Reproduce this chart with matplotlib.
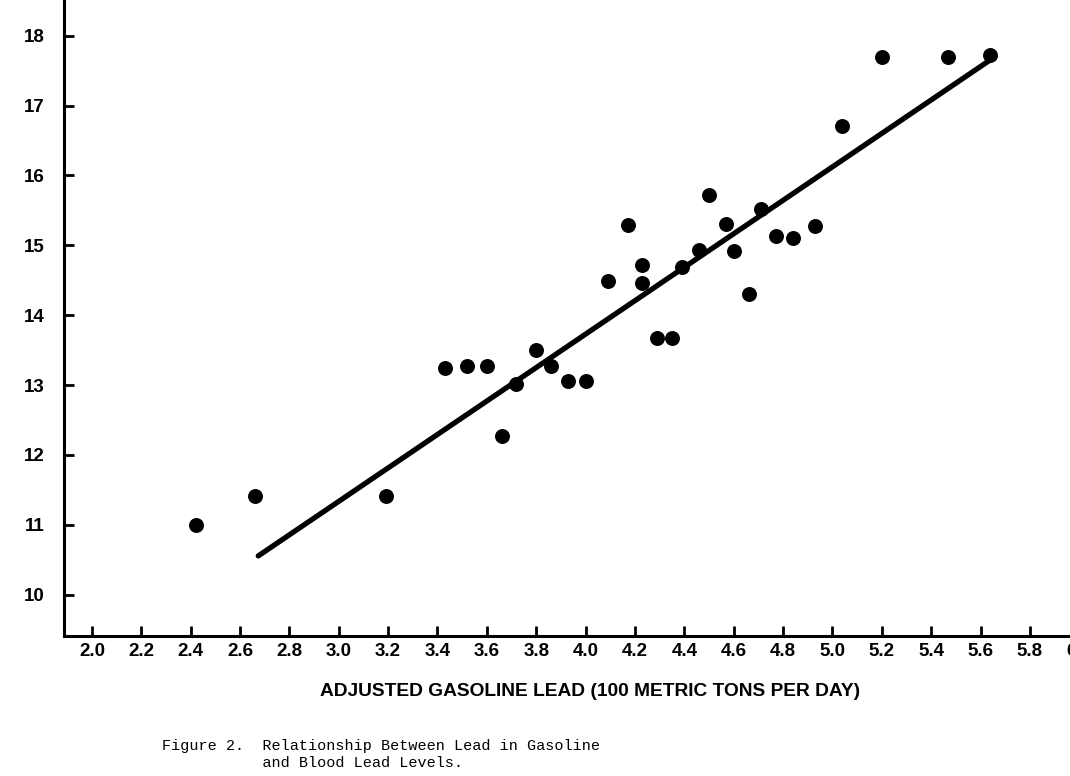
import numpy as np
import matplotlib
matplotlib.use("Agg")
import matplotlib.pyplot as plt

# --- DATA ---
gas_lead = [2.42, 2.66, 3.19, 3.43, 3.52, 3.60, 3.66, 3.72, 3.80, 3.86,
            3.93, 4.00, 4.09, 4.17, 4.23, 4.23, 4.29, 4.35, 4.39, 4.46,
            4.50, 4.57, 4.60, 4.66, 4.71, 4.77, 4.84, 4.93, 5.04, 5.20,
            5.47, 5.64]
blood_lead = [11.00, 11.41, 11.42, 13.24, 13.27, 13.27, 12.27, 13.02, 13.50, 13.27,
              13.06, 13.06, 14.49, 15.29, 14.72, 14.46, 13.67, 13.67, 14.69, 14.93,
              15.72, 15.30, 14.92, 14.30, 15.52, 15.13, 15.10, 15.27, 16.71, 17.69,
              17.69, 17.72]
fit_x = [2.674, 5.659]
fit_y = [10.556, 17.70]
xticks = [2.0, 2.2, 2.4, 2.6, 2.8, 3.0, 3.2, 3.4, 3.6, 3.8, 4.0, 4.2, 4.4,
          4.6, 4.8, 5.0, 5.2, 5.4, 5.6, 5.8, 6.0]
yticks = [10, 11, 12, 13, 14, 15, 16, 17, 18]

W, H = 1070, 776
fig = plt.figure(figsize=(W / 100, H / 100), dpi=100)

# axes placed in pixel terms; right edge runs past the figure like the scan
left_px, bottom_px, right_px = 64, 636, 1104
ax = fig.add_axes([left_px / W, (H - bottom_px) / H,
                   (right_px - left_px) / W, bottom_px / H])

ax.scatter(gas_lead, blood_lead, s=95, color="black", zorder=3)
ax.plot(fit_x, fit_y, color="black", lw=3.8, solid_capstyle="round", zorder=2)

ax.set_xlim(1.887, 6.1)
ax.set_ylim(9.41, 18.51)

for s in ["top", "right"]:
    ax.spines[s].set_visible(False)
for s in ["left", "bottom"]:
    ax.spines[s].set_linewidth(2.2)

tick_font = {"family": ["Liberation Sans Narrow", "Liberation Sans", "DejaVu Sans"],
             "weight": "bold", "size": 13.5}
ax.set_xticks(xticks)
ax.set_xticklabels([f"{t:.1f}" for t in xticks], fontdict=tick_font)
ax.set_yticks(yticks)
ax.set_yticklabels([str(t) for t in yticks], fontdict=tick_font)
ax.tick_params(axis="x", direction="in", length=7, width=2, pad=5)
ax.tick_params(axis="y", direction="in", length=7, width=2, pad=14)

fig.text(590 / W, 1 - 692 / H, "ADJUSTED GASOLINE LEAD (100 METRIC TONS PER DAY)",
         ha="center", va="center", fontsize=13.8, fontweight="bold",
         family=["Liberation Sans Narrow", "Liberation Sans", "DejaVu Sans"])

fig.text(162 / W, 1 - 754.5 / H,
         "Figure 2.  Relationship Between Lead in Gasoline\n"
         "           and Blood Lead Levels.",
         ha="left", va="center", fontsize=10.9, linespacing=1.35,
         family=["Liberation Mono", "DejaVu Sans Mono"])

fig.savefig("out.png", dpi=100)
